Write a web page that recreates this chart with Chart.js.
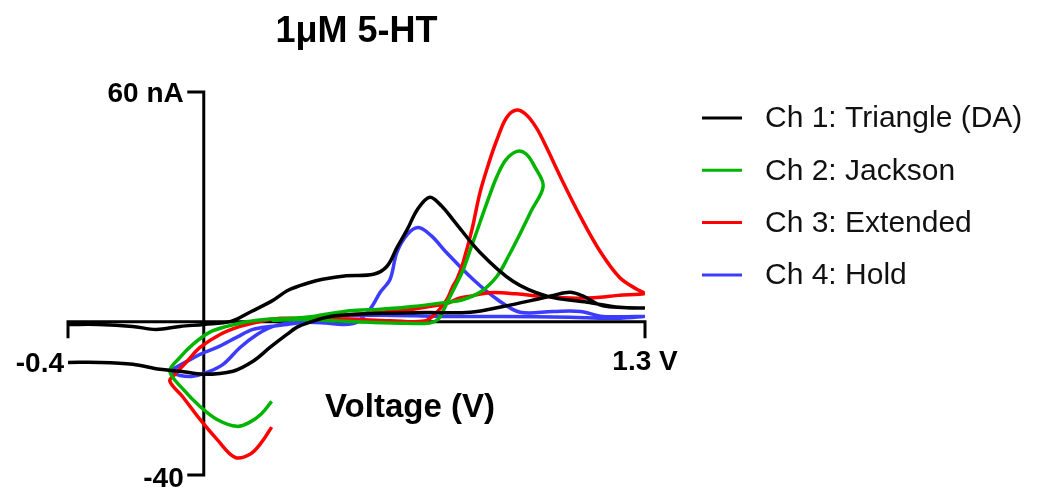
<!DOCTYPE html>
<html>
<head>
<meta charset="utf-8">
<script src="https://cdn.jsdelivr.net/npm/chart.js@4/dist/chart.umd.min.js"></script>
<style>
  html, body { margin: 0; padding: 0; background: #fff; }
  #wrap { width: 1050px; height: 499px; }
</style>
</head>
<body>
<div id="wrap"><canvas id="cv" width="1050" height="499"></canvas></div>
<script>
// values (V, nA)
const ch1V = [-0.40, -0.31, -0.21, -0.14, -0.07, 0.00, 0.08, 0.14, 0.20, 0.25, 0.31, 0.35, 0.42, 0.50, 0.54, 0.57, 0.60, 0.63, 0.666, 0.70, 0.734, 0.814, 0.911, 1.011, 1.13, 1.226, 1.30,
  1.176, 1.118, 1.079, 1.03, 0.982, 0.882, 0.785, 0.646, 0.451, 0.372, 0.313, 0.275, 0.245, 0.195, 0.145, 0.086, 0.0, -0.07, -0.129, -0.209, -0.306, -0.40];
const ch1I = [-0.7, -0.7, -1.2, -2.0, -1.2, -0.7, 0.1, 2.7, 5.4, 8.3, 10.2, 11.1, 12.0, 12.4, 14.5, 19.5, 24.2, 29.4, 32.5, 30.3, 26.7, 18.1, 10.6, 6.7, 5.1, 3.8, 3.6,
  4.2, 6.7, 7.7, 6.9, 5.9, 4.0, 2.5, 2.4, 2.0, 1.4, -0.1, -1.4, -3.3, -6.7, -10.3, -12.9, -13.7, -12.9, -12.4, -11.1, -10.6, -10.6];

const ch2V = [0.20, 0.30, 0.40, 0.50, 0.60, 0.666, 0.69, 0.705, 0.725, 0.745, 0.764, 0.79, 0.814, 0.84, 0.864, 0.89, 0.923, 0.95, 0.975, 1.00,
  0.965, 0.932, 0.90, 0.864, 0.814, 0.76, 0.717, 0.616, 0.52, 0.43, 0.322, 0.263, 0.195, 0.127, 0.068, 0.018, -0.032, -0.07, -0.10,
  -0.061, -0.011, 0.039, 0.098, 0.136, 0.17, 0.20];
const ch2I = [0.4, 0.6, 0.2, -0.2, -0.4, -0.3, 0.6, 2.8, 6.5, 10.0, 13.5, 20.0, 26.0, 32.5, 38.0, 42.3, 44.5, 43.8, 40.5, 35.4,
  29.0, 23.0, 17.5, 11.9, 7.7, 5.7, 5.1, 4.0, 3.3, 2.9, 1.4, 0.9, 0.7, 0.0, -1.2, -2.7, -5.9, -9.3, -12.9,
  -17.6, -22.1, -25.5, -27.3, -26.2, -24.0, -20.8];

const ch3V = [0.20, 0.30, 0.42, 0.55, 0.65, 0.687, 0.717, 0.734, 0.746, 0.764, 0.79, 0.814, 0.84, 0.864, 0.892, 0.922, 0.951, 0.981, 1.01, 1.05, 1.109, 1.167, 1.226, 1.276, 1.30,
  1.22, 1.15, 1.08, 1.0, 0.92, 0.843, 0.785, 0.746, 0.717, 0.616, 0.52, 0.42, 0.322, 0.283, 0.225, 0.166, 0.107, 0.048, -0.011, -0.049, -0.085, -0.10,
  -0.061, -0.011, 0.039, 0.092, 0.136, 0.17, 0.20];
const ch3I = [0.6, 0.8, 0.7, 0.3, 0.2, 2.5, 5.9, 9.3, 11.1, 15.5, 24.0, 33.8, 41.5, 47.6, 53.3, 55.3, 54.0, 50.5, 45.5, 38.0, 27.6, 18.5, 11.5, 8.5, 7.4,
  6.9, 6.3, 6.2, 6.6, 7.3, 7.6, 6.7, 6.0, 4.8, 3.3, 2.5, 1.8, 1.2, 0.9, 0.9, 0.1, -1.2, -3.3, -6.7, -10.3, -13.7, -15.5,
  -19.7, -25.5, -30.7, -35.4, -34.6, -31.5, -27.5];

const ch4V = [-0.10, -0.091, -0.049, -0.011, 0.039, 0.098, 0.145, 0.195, 0.245, 0.30, 0.36, 0.41, 0.451, 0.49, 0.52, 0.549, 0.569, 0.60, 0.632, 0.67, 0.715, 0.793, 0.864, 0.932, 1.029, 1.109, 1.176, 1.30,
  1.20, 1.079, 0.882, 0.70, 0.52, 0.37, 0.30, 0.263, 0.204, 0.157, 0.107, 0.057, 0.009, -0.032, -0.07, -0.10];
const ch4I = [-13.0, -12.4, -10.3, -8.5, -6.7, -4.0, -2.0, -1.2, -0.7, -0.1, -0.3, -0.7, -0.1, 3.3, 7.7, 11.1, 18.1, 22.8, 24.6, 22.5, 18.1, 11.1, 5.9, 2.5, 2.7, 2.7, 1.4, 1.4,
  0.9, 1.2, 1.4, 1.4, 1.7, 1.4, 0.6, -0.1, -1.2, -3.3, -6.7, -11.1, -13.2, -14.2, -14.0, -13.0];

const seriesNames = ["Ch 1: Triangle (DA)", "Ch 2: Jackson", "Ch 3: Extended", "Ch 4: Hold"];
const seriesColors = ["#000000", "#00b400", "#ff0000", "#3c3cff"];
const xTicks = [-0.4, 1.3];
const xTickLabels = ["-0.4", "1.3 V"];
const yTicks = [60, -40];
const yTickLabels = ["60 nA", "-40"];
const titleText = "1\u03bcM 5-HT";
const xTitle = "Voltage (V)";

const FONT = '"Liberation Sans", Arial, sans-serif';
const toPts = (xs, ys) => xs.map((x, i) => ({ x, y: ys[i] }));
const series = [toPts(ch1V, ch1I), toPts(ch2V, ch2I), toPts(ch3V, ch3I), toPts(ch4V, ch4I)];

const cvAxes = {
  id: "cvAxes",
  beforeDatasetsDraw(chart) {
    const { ctx, scales: { x, y } } = chart;
    const x0 = x.getPixelForValue(0), y0 = y.getPixelForValue(0);
    const xl = x.getPixelForValue(xTicks[0]), xr = x.getPixelForValue(xTicks[1]);
    const yt = y.getPixelForValue(yTicks[0]), yb = y.getPixelForValue(yTicks[1]);
    ctx.save();
    ctx.strokeStyle = "#000";
    ctx.lineWidth = 3;
    ctx.lineCap = "square";
    ctx.beginPath();
    // x axis with end ticks pointing down
    ctx.moveTo(xl, y0 + 15); ctx.lineTo(xl, y0); ctx.lineTo(xr, y0); ctx.lineTo(xr, y0 + 15);
    // y axis with end ticks pointing left
    ctx.moveTo(x0 - 15, yt); ctx.lineTo(x0, yt); ctx.lineTo(x0, yb); ctx.lineTo(x0 - 15, yb);
    ctx.stroke();
    ctx.restore();
  },
  afterDraw(chart) {
    const { ctx, chartArea, scales: { x, y } } = chart;
    const x0 = x.getPixelForValue(0), y0 = y.getPixelForValue(0);
    ctx.save();
    ctx.fillStyle = "#000";
    ctx.textBaseline = "middle";

    ctx.font = `bold 28px ${FONT}`;
    ctx.textAlign = "right";
    ctx.fillText(xTickLabels[0], x.getPixelForValue(xTicks[0]) - 4, y0 + 42);
    ctx.textAlign = "center";
    ctx.fillText(xTickLabels[1], x.getPixelForValue(xTicks[1]), y0 + 40);
    ctx.textAlign = "right";
    ctx.fillText(yTickLabels[0], x0 - 20, y.getPixelForValue(yTicks[0]) + 2);
    ctx.fillText(yTickLabels[1], x0 - 20, y.getPixelForValue(yTicks[1]) + 4);

    ctx.font = `bold 33px ${FONT}`;
    ctx.textAlign = "center";
    ctx.fillText(xTitle, 410, y0 + 86);

    ctx.font = `bold 36px ${FONT}`;
    ctx.fillText(titleText, (chartArea.left + chartArea.right) / 2, 32);

    // legend
    ctx.font = `30px ${FONT}`;
    ctx.textAlign = "left";
    seriesNames.forEach((name, i) => {
      const ly = 118 + i * 52.3;
      ctx.strokeStyle = seriesColors[i];
      ctx.lineWidth = 3;
      ctx.beginPath();
      ctx.moveTo(702, ly);
      ctx.lineTo(742, ly);
      ctx.stroke();
      ctx.fillStyle = "#111";
      ctx.fillText(name, 765, ly + 1);
    });
    ctx.restore();
  },
};

new Chart(document.getElementById("cv"), {
  type: "scatter",
  data: {
    datasets: series.map((pts, i) => ({
      label: seriesNames[i],
      data: pts,
      showLine: true,
      borderColor: seriesColors[i],
      backgroundColor: seriesColors[i],
      borderWidth: 3.5,
      pointRadius: 0,
      tension: 0.35,
      fill: false,
    })),
  },
  options: {
    responsive: false,
    animation: false,
    devicePixelRatio: 1,
    layout: { padding: { left: 68, right: 405, top: 92, bottom: 24 } },
    plugins: { legend: { display: false }, tooltip: { enabled: false }, title: { display: false } },
    scales: {
      x: { type: "linear", min: -0.4, max: 1.3, display: false },
      y: { type: "linear", min: -40, max: 60, display: false },
    },
  },
  plugins: [cvAxes],
});
</script>
</body>
</html>
